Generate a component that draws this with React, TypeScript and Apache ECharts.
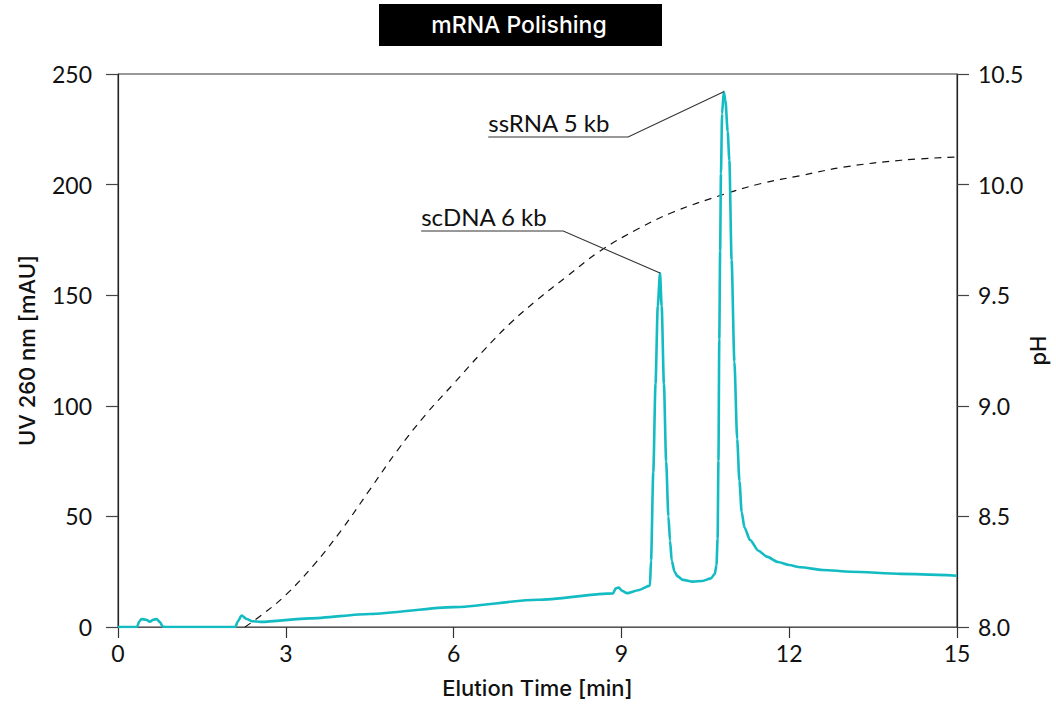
import React, { useEffect, useRef } from "react";
import * as echarts from "echarts";

const uvTime = [
  0, 0.34, 0.38, 0.42, 0.5, 0.57, 0.63, 0.69, 0.75, 0.8, 0.85, 2.1, 2.14, 2.21, 2.3, 2.4, 2.55,
  3.43, 4.5, 6.0, 7.5, 8.85, 8.9, 8.95, 9.02, 9.1, 9.3, 9.51, 9.53, 9.57, 9.61, 9.65, 9.69,
  9.72, 9.76, 9.8, 9.84, 9.87, 9.9, 9.95, 10.0, 10.1, 10.28, 10.45, 10.6, 10.67, 10.7, 10.72,
  10.735, 10.75, 10.765, 10.78, 10.8, 10.83, 10.86, 10.9, 10.93, 10.97, 11.02, 11.07, 11.11,
  11.15, 11.2, 11.3, 11.45, 11.6, 11.8, 12.0, 12.2, 12.6, 13.1, 14.0, 15.0,
];
const uvValue = [
  0, 0, 2.5, 3.6, 3.3, 2.4, 3.3, 3.6, 2.2, 0.2, 0, 0, 2.5, 5.2, 3.6, 2.6, 2.3,
  3.9, 5.9, 9.0, 12.3, 15.2, 17.5, 17.8, 16.3, 15.3, 16.6, 18.7, 30, 70, 110, 145, 160,
  145, 110, 75, 50, 39, 30, 25, 23, 21.3, 20.5, 20.8, 22, 24, 28, 40,
  75, 130, 170, 205, 232, 242, 238, 224, 211, 166, 120, 85, 66,
  52, 45, 39.3, 34.5, 31.8, 29.4, 28, 27, 25.8, 25, 24, 23.2,
];

const phTime = [
  2.27, 2.6, 3.0, 3.5, 4.0, 4.5, 5.0, 5.5, 6.0, 6.5, 7.0, 7.5, 8.0, 8.62, 9.3, 9.92, 10.82,
  11.5, 12.19, 13.0, 14.0, 15.0,
];
const phValue = [
  8.0, 8.06, 8.145, 8.28, 8.44, 8.62, 8.8, 8.96, 9.1, 9.24, 9.37, 9.48, 9.58, 9.7, 9.8,
  9.875, 9.955, 10.005, 10.04, 10.08, 10.11, 10.125,
];

const xTicks = [0, 3, 6, 9, 12, 15];
const annotations = [
  { label: "ssRNA 5 kb", start: [6.62, 221.5], elbow: [9.12, 221.5], tip: [10.83, 242] },
  { label: "scDNA 6 kb", start: [5.42, 179], elbow: [7.96, 179], tip: [9.69, 160] },
];

const TEAL = "#13BCC3";
const FONT = "Lato";
const NAME_FONT = "Inter";

export default function App() {
  const ref = useRef<HTMLDivElement>(null);
  useEffect(() => {
    if (!ref.current) return;
    const chart = echarts.init(ref.current, null, { renderer: "svg" });
    const uvData = uvTime.map((t, i) => [t, uvValue[i]]);
    const phData = phTime.map((t, i) => [t, phValue[i]]);
    const nameStyle = { fontSize: 22, color: "#111", fontWeight: 500, fontFamily: NAME_FONT };
    chart.setOption({
      animation: false,
      textStyle: { fontFamily: FONT },
      grid: {
        left: 118,
        right: 99,
        top: 74,
        bottom: 79,
        show: true,
        borderColor: "#333",
        borderWidth: 1,
        containLabel: false,
        outerBoundsMode: "none",
      },
      xAxis: {
        type: "value",
        min: xTicks[0],
        max: xTicks[xTicks.length - 1],
        interval: 3,
        name: "Elution Time [min]",
        nameLocation: "middle",
        nameGap: 50,
        nameTextStyle: nameStyle,
        axisLine: { show: true, lineStyle: { color: "#555", width: 1.2 } },
        axisTick: { show: true, length: 11, lineStyle: { color: "#333", width: 1.2 } },
        axisLabel: { fontSize: 23, color: "#111", margin: 14, fontFamily: FONT },
        splitLine: { show: false },
      },
      yAxis: [
        {
          type: "value",
          min: 0,
          max: 250,
          interval: 50,
          name: "UV 260 nm [mAU]",
          nameLocation: "middle",
          nameGap: 80,
          nameTextStyle: nameStyle,
          axisLine: { show: true, lineStyle: { color: "#222", width: 1.2 } },
          axisTick: { show: true, length: 12, lineStyle: { color: "#444", width: 1.2 } },
          axisLabel: { fontSize: 23, color: "#111", margin: 26, fontFamily: FONT },
          splitLine: { show: false },
        },
        {
          type: "value",
          min: 8,
          max: 10.5,
          interval: 0.5,
          position: "right",
          name: "pH",
          nameLocation: "middle",
          nameGap: 70,
          nameRotate: 90,
          nameMoveOverlap: false,
          nameTextStyle: nameStyle,
          axisLine: { show: true, lineStyle: { color: "#222", width: 1.2 } },
          axisTick: { show: true, length: 12, lineStyle: { color: "#444", width: 1.2 } },
          axisLabel: {
            fontSize: 23,
            color: "#111",
            margin: 21,
            fontFamily: FONT,
            formatter: (v: number) => v.toFixed(1),
          },
          splitLine: { show: false },
        },
      ],
      series: [
        {
          type: "line",
          name: "pH",
          yAxisIndex: 1,
          data: phData,
          smooth: 0.4,
          showSymbol: false,
          lineStyle: { color: "#111", width: 1.2, type: [7, 6] },
          z: 2,
        },
        {
          type: "line",
          name: "UV",
          yAxisIndex: 0,
          data: uvData,
          smooth: 0.25,
          smoothMonotone: "x",
          showSymbol: false,
          lineStyle: { color: TEAL, width: 2.6 },
          z: 3,
        },
      ],
    });

    const px = (p: number[]) => chart.convertToPixel({ xAxisIndex: 0, yAxisIndex: 0 }, p) as number[];
    const graphics: any[] = [
      {
        type: "group",
        children: [
          { type: "rect", shape: { x: 379, y: 4, width: 283, height: 42 }, style: { fill: "#000" } },
          {
            type: "text",
            x: 519,
            y: 25,
            style: {
              text: "mRNA Polishing",
              fill: "#fff",
              fontSize: 23,
              fontFamily: NAME_FONT,
              fontWeight: 500,
              textAlign: "center",
              textVerticalAlign: "middle",
            },
          },
        ],
      },
    ];
    annotations.forEach((a) => {
      const s = px(a.start);
      const e = px(a.elbow);
      const t = px(a.tip);
      graphics.push({
        type: "polyline",
        shape: { points: [s, e, t] },
        style: { stroke: "#333", lineWidth: 1.1, fill: null },
        z: 10,
      });
      graphics.push({
        type: "text",
        x: s[0],
        y: s[1] - 3,
        style: {
          text: a.label,
          fill: "#111",
          fontSize: 24,
          fontFamily: FONT,
          textAlign: "left",
          textVerticalAlign: "bottom",
        },
        z: 10,
      });
    });
    chart.setOption({ graphic: graphics });
    return () => chart.dispose();
  }, []);
  return (
    <div
      ref={ref}
      style={{ position: "absolute", left: 0, top: 0, width: 1056, height: 706 }}
    />
  );
}
